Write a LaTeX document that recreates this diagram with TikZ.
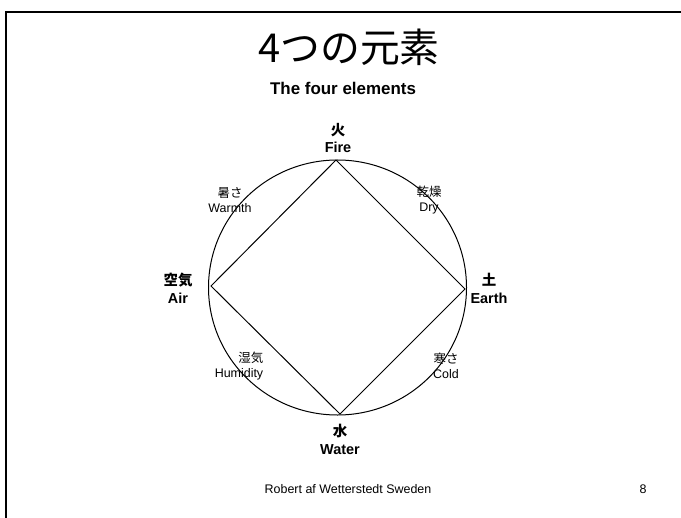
\documentclass[tikz,border=0pt]{standalone}
\usepackage{fontspec}
\setmainfont{Liberation Sans}
\newfontfamily\jfont{Noto Sans CJK JP}
\usepackage{tikz}

\begin{document}
\begin{tikzpicture}[x=1bp,y=-1bp,
  elem/.style={align=center,inner sep=0pt,font=\fontsize{14.5}{18}\selectfont\bfseries},
  qual/.style={align=center,inner sep=0pt,font=\fontsize{12.5}{15}\selectfont}]
\useasboundingbox (0,0) rectangle (681,518);
\draw[line width=2bp] (681,12) -- (6,12) -- (6,518);
\node (title) at (349,47) {\jfont\fontsize{40}{42}\selectfont 4つの元素};
\node (subtitle) at (343,88) {\bfseries\fontsize{17}{19}\selectfont The four elements};
\coordinate (O) at (337.5,287.5);
\draw[line width=1bp] (O) ellipse [x radius=129bp,y radius=127.5bp];
\coordinate (fire) at (336,160);
\coordinate (earth) at (465,289);
\coordinate (water) at (340,414);
\coordinate (air) at (211,286);
\draw[line width=1bp] (fire) -- (earth) -- (water) -- (air) -- cycle;
\node[elem] (firelbl) at (338,138) {{\jfont\bfseries 火}\\Fire};
\node[elem] (airlbl) at (178,288) {{\jfont\bfseries 空気}\\Air};
\node[elem] (earthlbl) at (489,288) {{\jfont\bfseries 土}\\Earth};
\node[elem] (waterlbl) at (340,439) {{\jfont\bfseries 水}\\Water};
\node[qual] (warmth) at (230,200) {{\jfont 暑さ}\\Warmth};
\node[qual] (dry) at (429,200) {{\jfont 乾燥}\\Dry};
\node[qual,align=right] (humid) at (239,366) {{\jfont 湿気}\\Humidity};
\node[qual] (cold) at (446,366) {{\jfont 寒さ}\\Cold};
\node[font=\fontsize{12.5}{15}\selectfont] (author) at (348,489) {Robert af Wetterstedt Sweden};
\node[font=\fontsize{12.5}{15}\selectfont] (page) at (643,489) {8};
\end{tikzpicture}
\end{document}
